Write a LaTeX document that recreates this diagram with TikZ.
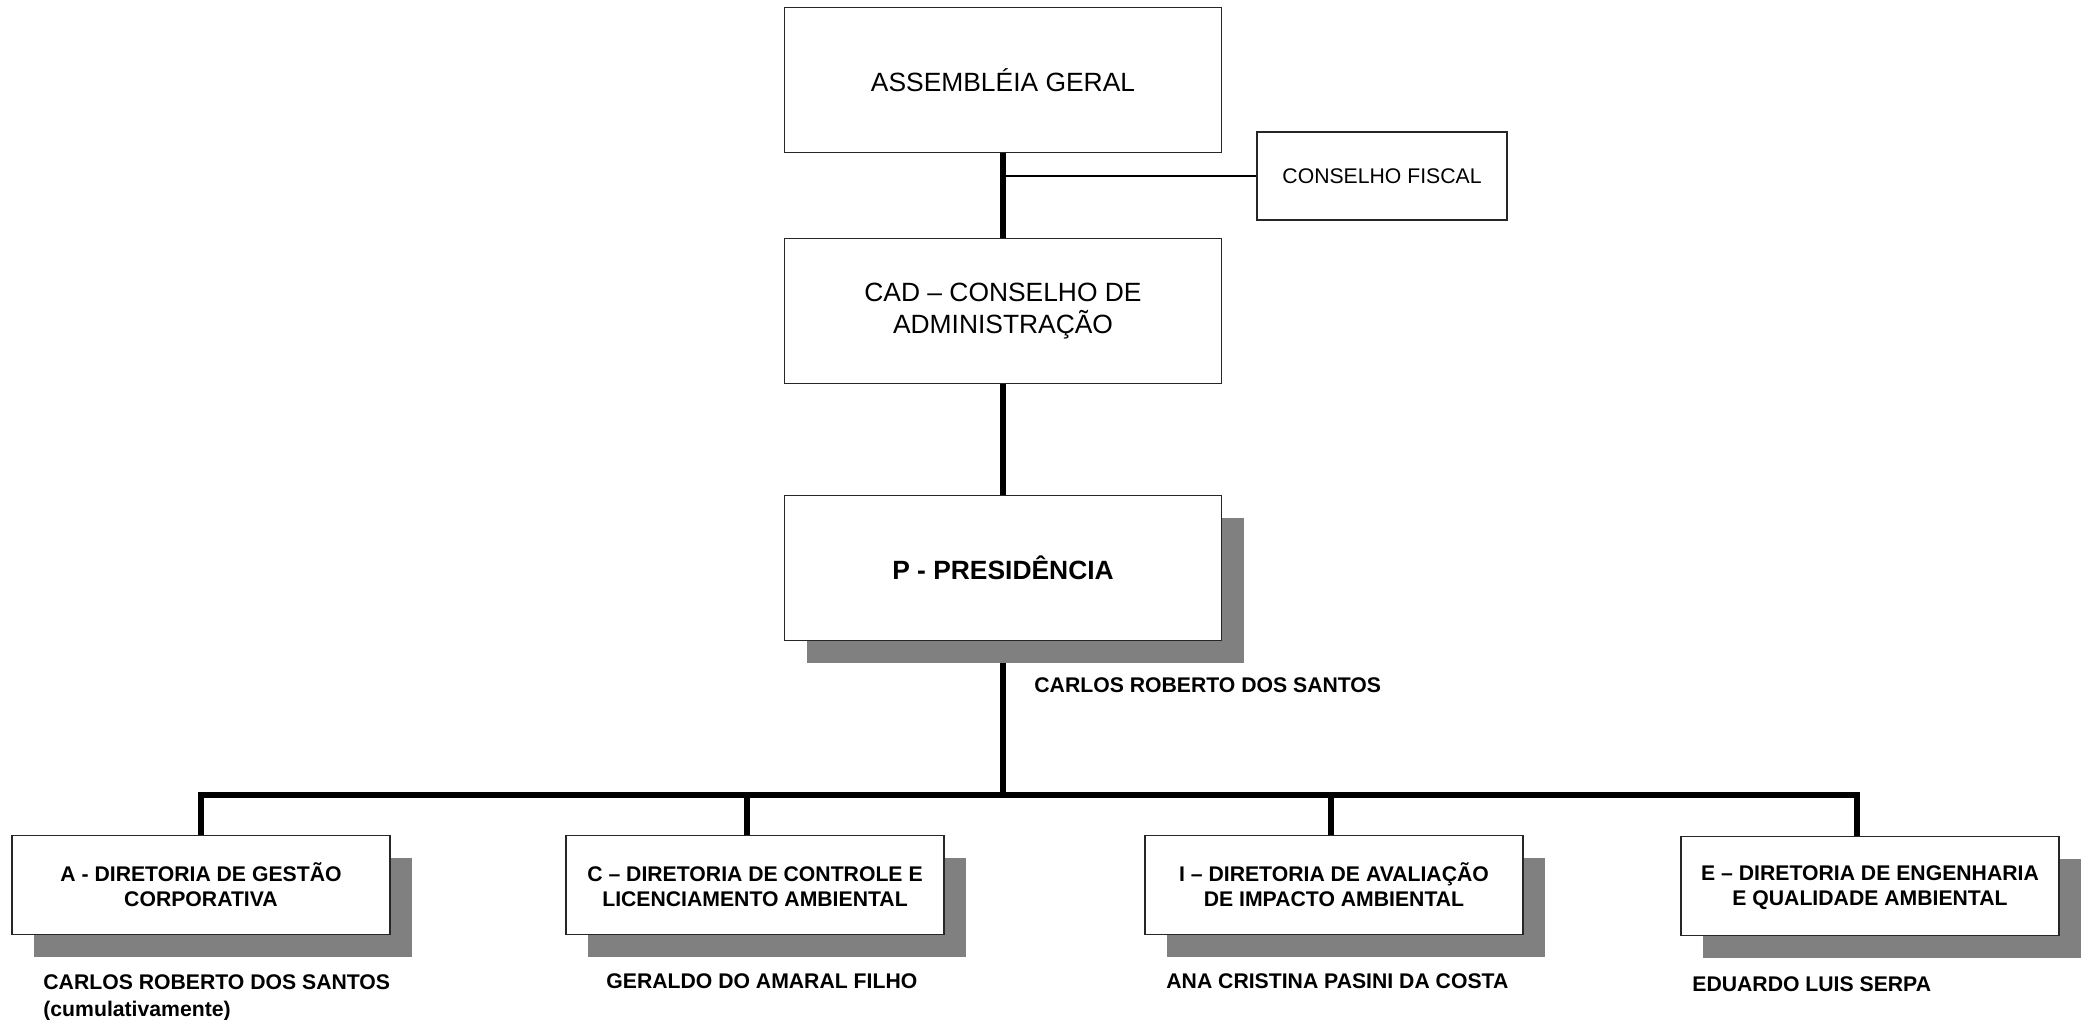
\documentclass[tikz,border=0pt]{standalone}
\usepackage{fontspec}
\setmainfont{Liberation Sans}
\usetikzlibrary{shadows,backgrounds}

\tikzset{
  caixa/.style={draw=black!85, line width=0.6pt, fill=white, align=center, inner sep=0pt},
  caixagrande/.style={caixa, minimum width=218.5pt, minimum height=72.5pt, font=\fontsize{13.2}{16}\selectfont},
  sombra/.style={general shadow={fill=black!50, shadow xshift=11pt, shadow yshift=-11pt}},
  diretoria/.style={caixa, sombra, minimum width=189pt, minimum height=49.5pt, font=\bfseries\fontsize{10.6}{12.5}\selectfont},
  nome/.style={inner sep=0pt, align=left, font=\bfseries\fontsize{10.6}{13.3}\selectfont},
  linha/.style={line width=3.3pt},
}

\begin{document}
\begin{tikzpicture}[x=0.5pt, y=-0.5pt]
    \useasboundingbox (0,0) rectangle (2087,1019);

    % Assembleia e conselhos
    \node[caixagrande] (ag) at (1003,80) {ASSEMBLÉIA GERAL};
    \node[caixa, minimum width=125pt, minimum height=44pt, font=\fontsize{10.6}{12.6}\selectfont] (cf) at (1382,176) {CONSELHO FISCAL};
    \node[caixagrande] (cad) at (1003,311) {CAD – CONSELHO DE\\ADMINISTRAÇÃO};

    % Presidencia
    \node[caixagrande, sombra, font=\bfseries\fontsize{13.2}{16}\selectfont] (pres) at (1003,568) {P - PRESIDÊNCIA};
    \node[nome, anchor=west] (npres) at (1034,685) {CARLOS ROBERTO DOS SANTOS};

    % Diretorias
    \node[diretoria] (da) at (201,885) {A - DIRETORIA DE GESTÃO\\CORPORATIVA};
    \node[diretoria] (dc) at (755,885) {C – DIRETORIA DE CONTROLE E\vphantom{Ã}\\LICENCIAMENTO AMBIENTAL};
    \node[diretoria] (di) at (1334,885) {I – DIRETORIA DE AVALIAÇÃO\\DE IMPACTO AMBIENTAL};
    \node[diretoria] (de) at (1870,886) {E – DIRETORIA DE ENGENHARIA\vphantom{Ã}\\E QUALIDADE AMBIENTAL};

    % Diretores
    \node[nome, anchor=north west] (na) at (43,974.5) {CARLOS ROBERTO DOS SANTOS\\(cumulativamente)};
    \node[nome, anchor=west] (nc) at (606,981) {GERALDO DO AMARAL FILHO};
    \node[nome, anchor=west] (ni) at (1166,981) {ANA CRISTINA PASINI DA COSTA};
    \node[nome, anchor=west] (ne) at (1692,984) {EDUARDO LUIS SERPA};

    % Ligacoes
    \begin{scope}[on background layer]
      \draw[linha] (ag.south) -- (cad.north);
      \draw[line width=0.6pt] (cf.west) -- (cf.west -| ag.south);
      \draw[linha] (cad.south) -- (pres.north);
      \coordinate (barra) at (1005,795);
      \draw[linha] (pres.south) -- (pres.south |- barra);
      \draw[linha] (da.north) -- (da.north |- barra) -- ([xshift=-6.5pt]de.north |- barra) -- ([xshift=-6.5pt]de.north);
      \draw[linha] ([xshift=-4pt]dc.north) -- ([xshift=-4pt]dc.north |- barra);
      \draw[linha] ([xshift=-1.5pt]di.north) -- ([xshift=-1.5pt]di.north |- barra);
    \end{scope}

\end{tikzpicture}
\end{document}
